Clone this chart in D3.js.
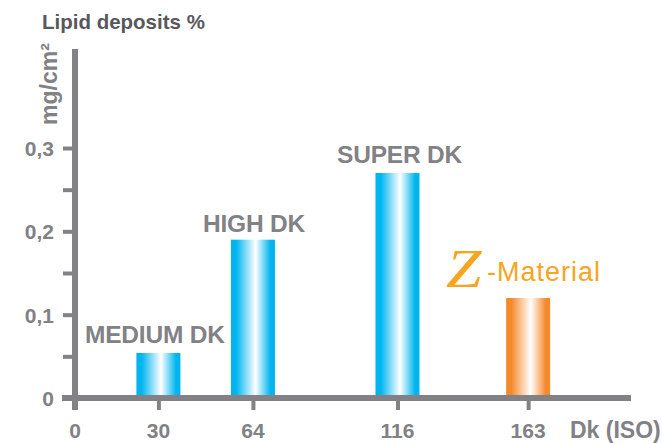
<!DOCTYPE html>
<html><head><meta charset="utf-8">
<script src="https://cdn.jsdelivr.net/npm/d3@7"></script>
<style>body{margin:0;background:#fff}svg{display:block}</style>
</head><body>
<script>
const categories = ["MEDIUM DK","HIGH DK","SUPER DK","Z-Material"];
const dkValues = [30, 64, 116, 163];
const lipidValues = [0.054, 0.19, 0.27, 0.12];
const xTicks = [0, 30, 64, 116, 163];
const yTicks = [0, 0.1, 0.2, 0.3];
const yMinorTicks = [0.05, 0.15, 0.25];
const yTickLabels = ["0","0,1","0,2","0,3"];

const W = 663, H = 443;
const gray = "#818186";
const FONT = "Liberation Sans, Arial, sans-serif";
const svg = d3.select("body").append("svg").attr("width", W).attr("height", H);
const x = d3.scaleLinear().domain([0, 200]).range([75, 631]);
const y = d3.scaleLinear().domain([0, 0.3]).range([398, 148]);

const defs = svg.append("defs");
function grad(id, c) {
  const g = defs.append("linearGradient").attr("id", id).attr("x1","0%").attr("x2","100%");
  g.append("stop").attr("offset","0%").attr("stop-color", c);
  g.append("stop").attr("offset","12%").attr("stop-color", c);
  g.append("stop").attr("offset","56%").attr("stop-color", "#ffffff");
  g.append("stop").attr("offset","90%").attr("stop-color", c);
  g.append("stop").attr("offset","100%").attr("stop-color", c);
}
grad("gblue", "#00b5ef");
grad("gorange", "#f48a2c");

const barW = 44;
svg.selectAll("rect.bar").data(categories).join("rect")
  .attr("class","bar")
  .attr("x", (d,i) => x(dkValues[i]) - barW/2)
  .attr("width", barW)
  .attr("y", (d,i) => y(lipidValues[i]))
  .attr("height", (d,i) => y(0) - y(lipidValues[i]))
  .attr("fill", (d,i) => i === 3 ? "url(#gorange)" : "url(#gblue)");

// Y axis
const yAxis = d3.axisLeft(y).tickValues(yTicks.concat(yMinorTicks)).tickSize(12).tickFormat("");
const ya = svg.append("g").attr("transform", "translate(75,0)").call(yAxis);
ya.select(".domain").remove();
ya.selectAll(".tick line").attr("stroke", gray).attr("stroke-width", 4);
svg.append("line").attr("x1",75).attr("x2",75).attr("y1",49).attr("y2",y(0)+12)
  .attr("stroke", gray).attr("stroke-width", 6);
svg.selectAll("text.ylab").data(yTicks).join("text").attr("class","ylab")
  .attr("x", 54).attr("y", d => y(d) + 8)
  .attr("text-anchor","end").attr("font-family", FONT)
  .attr("font-weight","bold").attr("font-size", 21).attr("fill", gray)
  .text((d,i) => yTickLabels[i]);

// X axis
const xAxis = d3.axisBottom(x).tickValues(xTicks).tickSize(12).tickFormat("");
const xa = svg.append("g").attr("transform", `translate(0,${y(0)})`).call(xAxis);
xa.select(".domain").remove();
xa.selectAll(".tick line").attr("stroke", gray).attr("stroke-width", 4);
svg.append("line").attr("x1",62).attr("x2",631).attr("y1",y(0)).attr("y2",y(0))
  .attr("stroke", gray).attr("stroke-width", 6);
svg.selectAll("text.xlab").data(xTicks).join("text").attr("class","xlab")
  .attr("x", d => x(d)).attr("y", 438)
  .attr("text-anchor","middle").attr("font-family", FONT)
  .attr("font-weight","bold").attr("font-size", 21).attr("fill", gray)
  .text(d => d);
svg.append("text").attr("x", 570).attr("y", 438)
  .attr("font-family", FONT)
  .attr("font-weight","bold").attr("font-size", 23).attr("fill", gray).text("Dk (ISO)");

// Titles
svg.append("text").attr("x", 42).attr("y", 29)
  .attr("font-family", FONT)
  .attr("font-weight","bold").attr("font-size", 20.5).attr("fill", "#58585c").text("Lipid deposits %");
svg.append("text").attr("transform","translate(57,125) rotate(-90)")
  .attr("font-family", FONT)
  .attr("font-weight","bold").attr("font-size", 23).attr("fill", gray).text("mg/cm²");

// Category labels
const labelPos = [[85,343],[203,232],[337,163]];
categories.slice(0,3).forEach((c,i) => {
  svg.append("text").attr("x", labelPos[i][0]).attr("y", labelPos[i][1])
    .attr("font-family", FONT)
    .attr("font-weight","bold").attr("font-size", 24.5).attr("fill", gray)
    .attr("letter-spacing", -0.2).text(c);
});
const orange = "#f7a41f";
svg.append("text").attr("transform", "translate(446,287) scale(1.18,1)").attr("fill", orange)
  .attr("font-family","Liberation Serif, Times New Roman, serif")
  .attr("font-style","italic").attr("font-size", 54).text(categories[3].charAt(0));
svg.append("text").attr("x", 487).attr("y", 281).attr("fill", orange)
  .attr("font-family", FONT).attr("font-size", 27).attr("letter-spacing", 1)
  .text(categories[3].slice(1));
</script>
</body></html>
